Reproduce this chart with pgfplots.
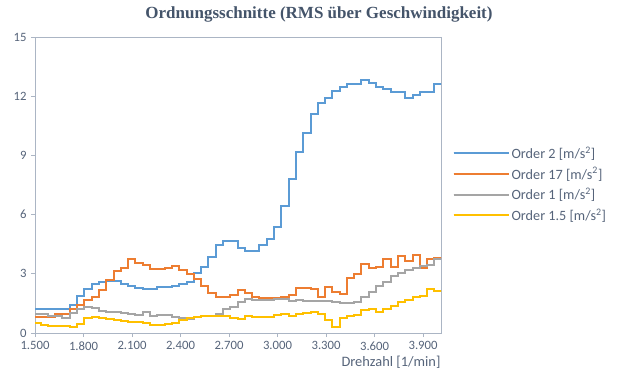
\documentclass[border=0pt]{standalone}
\usepackage{pgfplots}
\pgfplotsset{compat=1.18}
\usepackage{pgfplotstable}
\usepackage{fontspec}
\setmainfont{Carlito}
\newfontfamily\titlefont{Liberation Serif}
\definecolor{cBlue}{HTML}{5B9BD5}
\definecolor{cOrange}{HTML}{ED7D31}
\definecolor{cGray}{HTML}{A5A5A5}
\definecolor{cYellow}{HTML}{FFC000}
\definecolor{cTitle}{HTML}{44546A}
\definecolor{cTick}{HTML}{56647A}
\definecolor{cAxis}{HTML}{ABB5C4}
\pgfplotstableread{
x o2 o17 o1 o15
1490 1.22 0.80 0.95 0.49
1535 1.22 0.80 0.95 0.41
1580 1.22 0.80 0.87 0.36
1625 1.22 0.95 0.87 0.36
1670 1.22 0.95 0.76 0.33
1716 1.42 1.20 1.00 0.30
1761 1.88 1.40 1.20 0.46
1806 2.21 1.65 1.33 0.74
1851 2.47 1.80 1.28 0.80
1896 2.60 2.20 1.13 0.75
1941 2.63 2.70 1.05 0.71
1986 2.62 3.15 1.05 0.68
2031 2.48 3.28 1.00 0.63
2076 2.40 3.73 0.95 0.57
2121 2.30 3.56 0.93 0.57
2167 2.25 3.45 1.08 0.49
2212 2.25 3.25 0.88 0.41
2257 2.32 3.25 0.90 0.41
2302 2.35 3.30 0.91 0.46
2347 2.40 3.40 0.83 0.52
2392 2.50 3.20 0.78 0.66
2437 2.60 3.00 0.72 0.74
2482 3.06 2.75 0.83 0.80
2527 3.35 2.39 0.86 0.85
2572 3.85 2.03 0.86 0.85
2618 4.44 1.84 0.95 0.85
2663 4.68 1.84 1.20 0.85
2708 4.68 1.93 1.33 0.78
2753 4.29 2.20 1.59 0.72
2798 4.17 2.04 1.70 0.88
2843 4.15 1.84 1.67 0.83
2888 4.46 1.76 1.67 0.80
2933 4.75 1.76 1.67 0.83
2978 5.38 1.76 1.73 0.91
3023 6.45 1.84 1.73 0.96
3069 7.80 1.93 1.60 0.86
3114 9.19 2.26 1.65 0.95
3159 10.15 2.26 1.62 1.00
3204 11.10 2.21 1.64 1.08
3249 11.64 1.84 1.62 0.96
3294 11.90 2.32 1.62 0.66
3339 12.27 2.08 1.56 0.32
3384 12.48 2.00 1.50 0.78
3429 12.60 2.80 1.52 0.84
3474 12.60 3.00 1.58 0.93
3519 12.82 3.50 1.82 1.16
3565 12.69 3.30 2.09 1.22
3610 12.45 3.36 2.40 1.05
3655 12.35 3.75 2.60 1.22
3700 12.23 3.34 2.90 1.37
3745 12.23 3.90 3.06 1.59
3790 11.93 3.65 3.19 1.67
3835 12.06 3.95 3.28 1.80
3880 12.23 3.27 3.38 1.90
3925 12.23 3.75 3.45 2.23
3970 12.62 3.78 3.75 2.14
4016 12.62 3.78 3.75 2.14
}\data
\begin{document}
\begin{tikzpicture}
\path[use as bounding box] (0,0) rectangle (618bp,378bp);
\node[font=\titlefont\bfseries\fontsize{17bp}{20bp}\selectfont, text=cTitle] at (319bp,364bp) {Ordnungsschnitte (RMS über Geschwindigkeit)};
\begin{axis}[
  at={(35bp,45bp)}, anchor=south west,
  scale only axis, width=406bp, height=296bp,
  xmin=1500, xmax=4011, ymin=0, ymax=15,
  xtick={1500,1800,2100,2400,2700,3000,3300,3600,3900},
  xticklabels={1.500,1.800,2.100,2.400,2.700,3.000,3.300,3.600,3.900},
  ytick={0,3,6,9,12,15},
  yticklabels={0,3,6,9,12,15},
  tick align=outside, tick pos=left,
  major tick length=4bp,
  every tick/.style={cAxis, line width=0.8bp},
  axis line style={cAxis, line width=0.8bp},
  ticklabel style={font=\fontsize{12.7bp}{15bp}\selectfont, text=cTick},
  xticklabel style={yshift=-1bp},
  yticklabel style={xshift=-1bp},
  xlabel={Drehzahl [1/min]},
  xlabel style={font=\fontsize{14.4bp}{17bp}\selectfont, text=cTick, at={(axis description cs:1,0)}, anchor=north east, yshift=-20bp, xshift=3bp},
  every axis plot/.append style={line width=2bp, const plot, line join=miter},
  legend cell align=left,
  legend style={at={(1.028,0.502)}, anchor=west, draw=none, fill=none, inner sep=0pt,
    font=\fontsize{14.2bp}{17bp}\selectfont, text=cTick, row sep=3.5bp},
  legend image code/.code={\draw[#1, line width=2bp, const plot=false] (0bp,0bp) -- (50bp,0bp); \path (0bp,0bp) -- (55bp,0bp);},
]
\addplot[cBlue] table[x=x, y=o2] {\data};
\addlegendentry{Order 2 [m/s\textsuperscript{2}]}
\addplot[cOrange] table[x=x, y=o17] {\data};
\addlegendentry{Order 17 [m/s\textsuperscript{2}]}
\addplot[cGray] table[x=x, y=o1] {\data};
\addlegendentry{Order 1 [m/s\textsuperscript{2}]}
\addplot[cYellow] table[x=x, y=o15] {\data};
\addlegendentry{Order 1.5 [m/s\textsuperscript{2}]}
\end{axis}
\end{tikzpicture}
\end{document}
